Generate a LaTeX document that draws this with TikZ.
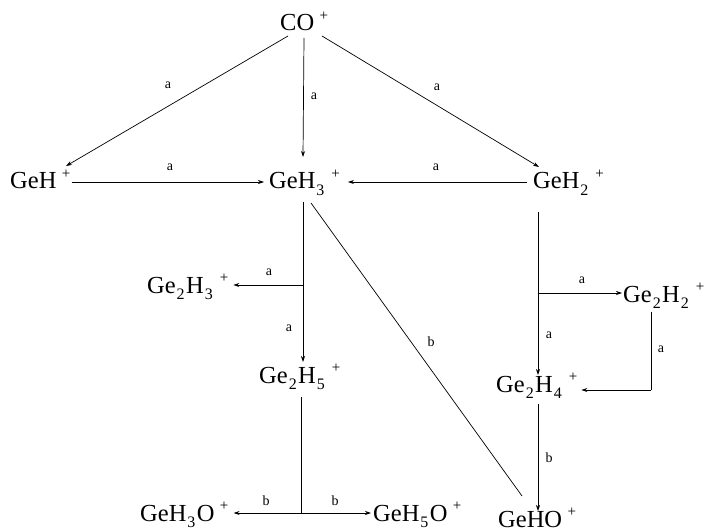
\documentclass[tikz,border=0pt]{standalone}
\usepackage{fontspec}
\setmainfont{Liberation Serif}
\usetikzlibrary{arrows.meta,calc}
\newcommand{\chdn}[1]{\hspace{0.04em}\raisebox{-0.26em}{\fontsize{16}{16}\selectfont #1}\hspace{0.06em}}
\newcommand{\chup}[1]{\hspace{0.22em}\raisebox{0.42em}{\fontsize{15}{15}\selectfont #1}}
\begin{document}
\begin{tikzpicture}[x=1pt,y=-1pt,
  sp/.style={inner sep=0pt,anchor=base west,font=\fontsize{24.5}{24.5}\selectfont},
  lab/.style={inner sep=0pt,font=\fontsize{14}{14}\selectfont},
  conn/.style={line width=0.7pt,-{Stealth[length=6pt,width=4pt]}},
  ln/.style={line width=0.7pt}]
\useasboundingbox (0,0) rectangle (707,532);
% species
\node[sp] (CO) at (280,31) {CO\chup{+}};
\node[sp] (GeH) at (10,189) {GeH\chup{+}};
\node[sp] (GeH3) at (269,189) {GeH\chdn{3}\chup{+}};
\node[sp] (GeH2) at (533,189) {GeH\chdn{2}\chup{+}};
\node[sp] (Ge2H3) at (147,293) {Ge\chdn{2}H\chdn{3}\chup{+}};
\node[sp] (Ge2H2) at (623,302) {Ge\chdn{2}H\chdn{2}\chup{+}};
\node[sp] (Ge2H5) at (259,383) {Ge\chdn{2}H\chdn{5}\chup{+}};
\node[sp] (Ge2H4) at (496,392) {Ge\chdn{2}H\chdn{4}\chup{+}};
\node[sp] (GeH3O) at (140,521) {GeH\chdn{3}O\chup{+}};
\node[sp] (GeH5O) at (373,521) {GeH\chdn{5}O\chup{+}};
\node[sp] (GeHO) at (498,527) {GeHO\chup{+}};
% junction points
\coordinate (j1) at (303,285);
\coordinate (j2) at (538,293);
\coordinate (j3) at (651,390);
\coordinate (j4) at (301,513);
% connectors from CO+
\draw[conn] ($(CO.base west)+(8,5)$) -- ($(GeH.north west)+(56,-4)$);
\draw[conn] ($(CO.base west)+(24,7)$) -- ($(GeH3.base west)+(34,-32)$);
\draw[conn] ($(CO.base west)+(42,5)$) -- ($(GeH2.base west)+(6,-22)$);
\node[lab] (la1) at (168,85) {a};
\node[lab] (la2) at (314,96) {a};
\node[lab] (la3) at (437,87) {a};
% row 2
\draw[conn] ($(GeH.base east)+(1,-7)$) -- ($(GeH3.base west)+(-5,-7)$);
\draw[conn] ($(GeH2.base west)+(-6,-7)$) -- ($(GeH3.base east)+(8,-7)$);
\node[lab] (la4) at (170,167) {a};
\node[lab] (la5) at (436,167) {a};
% GeH3+ column
\draw[ln] ($(GeH3.base west)+(34,13)$) -- (j1);
\draw[conn] (j1) -- ($(Ge2H5.base west)+(44,-21)$);
\draw[conn] (j1) -- ($(Ge2H3.base east)+(5,-8)$);
\node[lab] (la6) at (269,272) {a};
\node[lab] (la7) at (289,328) {a};
% diagonal b
\draw[ln] ($(GeH3.base west)+(42,14)$) -- ($(GeHO.base west)+(24,-31)$);
\node[lab] (lb1) at (431,342) {b};
% GeH2+ column
\draw[ln] ($(GeH2.base west)+(5,23)$) -- (j2);
\draw[conn] (j2) -- ($(Ge2H4.base west)+(42,-17)$);
\draw[conn] (j2) -- ($(Ge2H2.base west)+(-1,-9)$);
\node[lab] (la8) at (582,280) {a};
\node[lab] (la9) at (549,335) {a};
\draw[ln] ($(Ge2H2.base west)+(28,10)$) -- (j3);
\node[lab] (la10) at (661,349) {a};
\draw[conn] (j3) -- ($(Ge2H4.base east)+(4,-2)$);
\draw[conn] ($(Ge2H4.base west)+(42,12)$) -- ($(GeHO.base west)+(40,-16)$);
\node[lab] (lb2) at (549,458) {b};
% Ge2H5+ column
\draw[ln] ($(Ge2H5.base west)+(42,14)$) -- (j4);
\draw[conn] (j4) -- ($(GeH3O.base east)+(5,-8)$);
\draw[conn] (j4) -- ($(GeH5O.base west)+(-2,-8)$);
\node[lab] (lb3) at (266,501) {b};
\node[lab] (lb4) at (335,501) {b};
\end{tikzpicture}
\end{document}
